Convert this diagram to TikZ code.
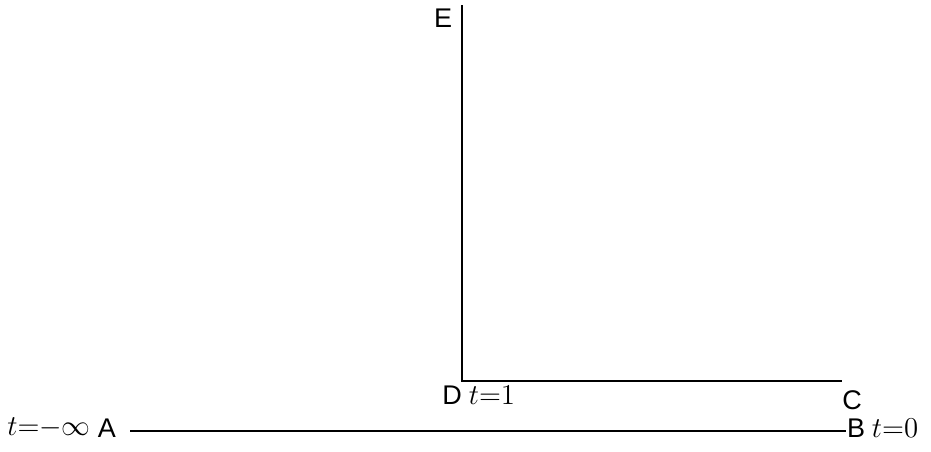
\documentclass[tikz,border=0pt]{standalone}
\usepackage{fontspec}
\setmainfont{Liberation Sans}
\usepackage{tikz}
\usetikzlibrary{positioning}

\begin{document}
\begin{tikzpicture}[x=0.5pt,y=-0.5pt,
  font=\fontsize{13.5}{16}\selectfont,
  lbl/.style={inner sep=0pt,outer sep=0pt},
  tlbl/.style={inner sep=0pt,outer sep=0pt},
  seg/.style={line width=1.2pt,black}]
\useasboundingbox (0,0) rectangle (931,451);
\coordinate (e) at (462,5);
\coordinate (d) at (462,381);
\coordinate (c) at (842,381);
\coordinate (a) at (130,431);
\coordinate (b) at (846,431);
\node[lbl] (le) at (443,18) {E};
\node[lbl] (ld) at (452,395) {D};
\node[tlbl] (td) at (492,395) {$t{=}1$};
\node[lbl] (lc) at (852,400) {C};
\node[lbl] (la) at (107,428) {A};
\node[tlbl] (ta) at (49,428) {$t{=}{-}\infty$};
\node[lbl] (lb) at (856,428) {B};
\node[tlbl] (tb) at (895,428) {$t{=}0$};
\draw[seg] (e) -- (d) -- (c);
\draw[seg] (a) -- (b);
\end{tikzpicture}
\end{document}
